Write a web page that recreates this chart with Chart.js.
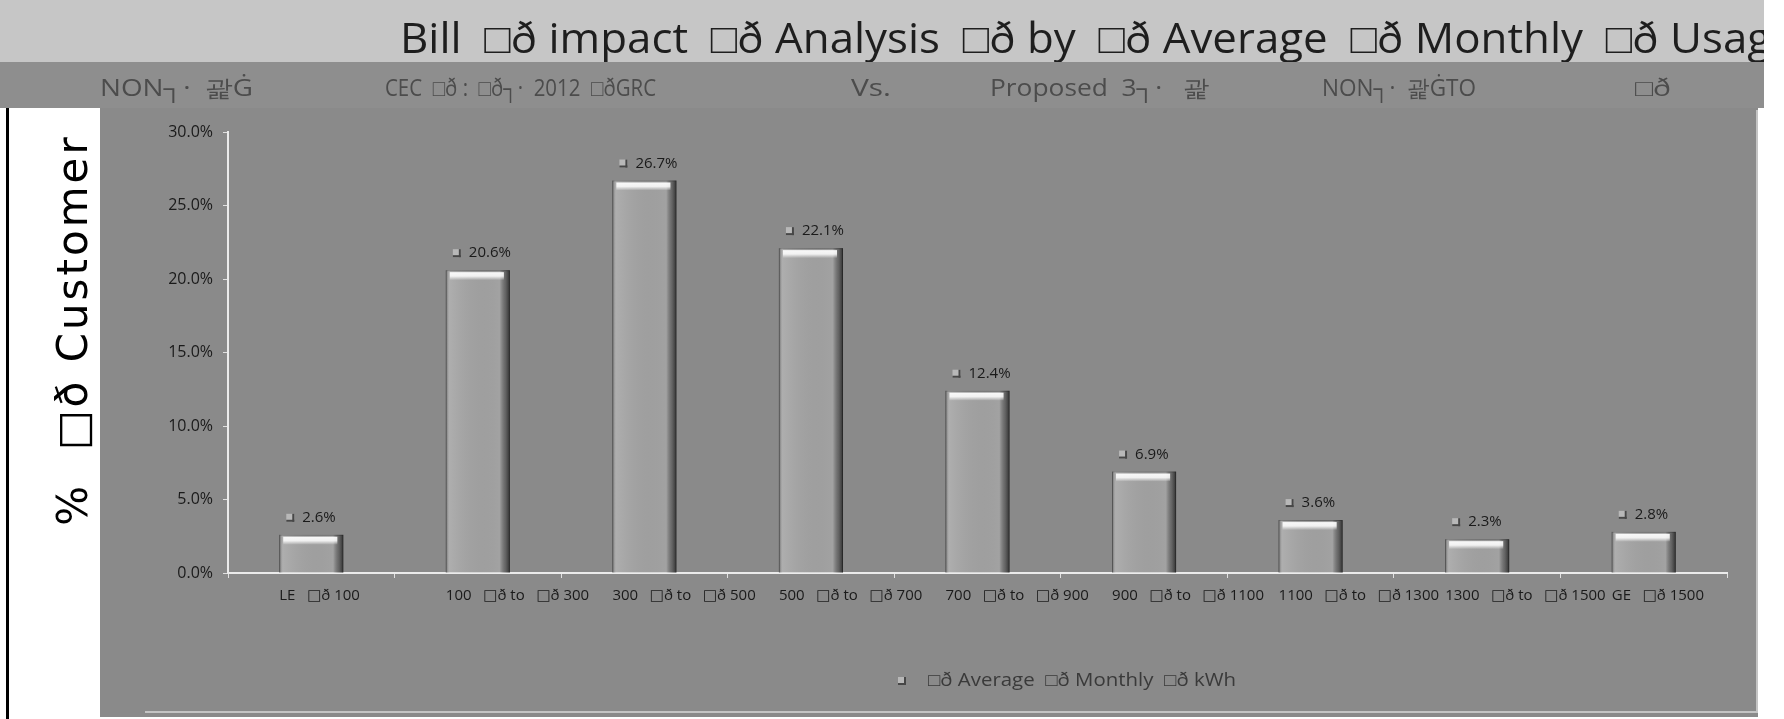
<!DOCTYPE html>
<html>
<head>
<meta charset="utf-8">
<title>Bill impact analysis by average monthly usage</title>
<script src="https://cdn.jsdelivr.net/npm/chart.js@4.4.1/dist/chart.umd.min.js"></script>
<style>
  html, body { margin: 0; padding: 0; background: #ffffff; overflow: hidden; }
  #wrap { position: relative; width: 1784px; height: 719px; }
  canvas { display: block; }
</style>
</head>
<body>
<div id="wrap"><canvas id="usageChart" width="1784" height="719"></canvas></div>
<script>
// ---- chart data ----
const BOX = "\u25A1\u00F0";
const usageBands = [
  "LE   " + BOX + " 100",
  "100   " + BOX + " to   " + BOX + " 300",
  "300   " + BOX + " to   " + BOX + " 500",
  "500   " + BOX + " to   " + BOX + " 700",
  "700   " + BOX + " to   " + BOX + " 900",
  "900   " + BOX + " to   " + BOX + " 1100",
  "1100   " + BOX + " to   " + BOX + " 1300",
  "1300   " + BOX + " to   " + BOX + " 1500",
  "GE   " + BOX + " 1500"
];
const customerShare = [2.6, 20.6, 26.7, 22.1, 12.4, 6.9, 3.6, 2.3, 2.8];
const percentTicks = [0, 5, 10, 15, 20, 25, 30];
const seriesLabel = BOX + " Average  " + BOX + " Monthly  " + BOX + " kWh";
const axisTitle = "%  " + BOX + " Customer";
const titleText = "Bill  " + BOX + " impact  " + BOX + " Analysis  " + BOX + " by  " +
                  BOX + " Average  " + BOX + " Monthly  " + BOX + " Usage";

// second header line, as phrases: [text, left x, right x]
const subtitleRow = [
  ["NON\u2510\u00B7  \uAD09\u0120", 100, 253],
  ["CEC  " + BOX + " :  " + BOX + "\u2510\u00B7  2012  " + BOX + "GRC", 385, 656],
  ["Vs.", 851, 893],
  ["Proposed  3\u2510\u00B7   \uAD09", 990, 1209],
  ["NON\u2510\u00B7  \uAD09\u0120TO", 1322, 1476],
  [BOX, 1635, 1673]
];

const FONT = "'Open Sans', 'Liberation Sans', 'DejaVu Sans', sans-serif";
const LABEL_FONT = "'Open Sans', 'DejaVu Sans', sans-serif";

// draw text starting at x, squeezed or stretched to a given width
function fitText(c, text, x, y, width, lo, hi) {
  const w = c.measureText(text).width;
  const s = Math.min(hi, Math.max(lo, width / w));
  c.save();
  c.translate(x, y);
  c.scale(s, 1);
  c.fillText(text, 0, 0);
  c.restore();
}

function drawKey(c, x, y) {
  c.fillStyle = '#b8b8b8';
  c.fillRect(x - 4, y - 4, 8, 8);
  c.fillStyle = '#474747';
  c.fillRect(x + 2, y - 4, 2, 8);
  c.fillRect(x - 4, y + 2, 8, 2);
}

// ---- page furniture: strips, panels, header text, axis title, legend ----
const furniture = {
  id: 'furniture',
  beforeDraw(chart) {
    const c = chart.ctx;
    c.save();
    c.fillStyle = '#ffffff';
    c.fillRect(0, 0, 1784, 719);
    c.fillStyle = '#c6c6c6';           // title strip
    c.fillRect(0, 0, 1764, 62);
    c.fillStyle = '#8e8e8e';           // subtitle strip
    c.fillRect(0, 62, 1764, 46);
    c.fillStyle = '#8a8a8a';           // chart panel
    c.fillRect(100, 108, 1658, 609);
    c.strokeStyle = '#c4c4c4';
    c.lineWidth = 2;
    c.beginPath();
    c.moveTo(145, 712); c.lineTo(1757, 712); c.lineTo(1757, 110);
    c.stroke();
    c.fillStyle = '#000000';           // rule at the left of the white margin
    c.fillRect(6, 108, 3, 611);
    c.restore();
  },
  afterDraw(chart) {
    const c = chart.ctx;

    // main title, running past the strip edge
    c.save();
    c.beginPath();
    c.rect(0, 0, 1764, 62);
    c.clip();
    c.fillStyle = '#1e1e1e';
    c.font = '42px ' + FONT;
    c.textBaseline = 'alphabetic';
    const lastWord = titleText.lastIndexOf('Usage');
    const prefixW = c.measureText(titleText.slice(0, lastWord)).width;
    fitText(c, titleText, 400, 53, (1670 - 400) * c.measureText(titleText).width / prefixW, 0.7, 1.3);
    c.restore();

    // second header line
    c.save();
    c.fillStyle = '#4c4c4c';
    c.font = '23px ' + FONT;
    c.textBaseline = 'alphabetic';
    subtitleRow.forEach(([t, x0, x1]) => fitText(c, t, x0, 96, x1 - x0, 0.75, 1.3));
    c.restore();

    // vertical axis title
    c.save();
    c.translate(76, 330);
    c.rotate(-Math.PI / 2);
    c.fillStyle = '#000000';
    c.font = "42px 'DejaVu Sans', sans-serif";
    if ('letterSpacing' in c) c.letterSpacing = '3px';
    c.textAlign = 'center';
    c.textBaseline = 'middle';
    c.fillText(axisTitle, 0, 0);
    c.restore();

    // legend
    c.save();
    const lx = 902, ly = 681;
    drawKey(c, lx, ly);
    c.fillStyle = '#3a3a3a';
    c.font = '18px ' + FONT;
    c.textBaseline = 'middle';
    fitText(c, chart.data.datasets[0].label, lx + 26, ly, 308, 0.8, 1.3);
    c.restore();
  }
};

// ---- bevel shading on each bar plus value labels ----
const barDecor = {
  id: 'barDecor',
  afterDatasetsDraw(chart) {
    const c = chart.ctx;
    const meta = chart.getDatasetMeta(0);
    const values = chart.data.datasets[0].data;
    meta.data.forEach((bar, i) => {
      const { x, y, base, width } = bar.getProps(['x', 'y', 'base', 'width'], true);
      const l = x - width / 2;
      c.save();
      const g = c.createLinearGradient(l, 0, l + width, 0);
      g.addColorStop(0, 'rgba(50,50,50,0.6)');
      g.addColorStop(0.07, 'rgba(255,255,255,0.12)');
      g.addColorStop(0.84, 'rgba(0,0,0,0.0)');
      g.addColorStop(0.93, 'rgba(40,40,40,0.5)');
      g.addColorStop(1, 'rgba(20,20,20,0.8)');
      c.fillStyle = g;
      c.fillRect(l, y, width, base - y);
      const h = c.createLinearGradient(0, y + 1, 0, y + 10);
      h.addColorStop(0, 'rgba(255,255,255,0.95)');
      h.addColorStop(0.55, 'rgba(255,255,255,0.85)');
      h.addColorStop(1, 'rgba(255,255,255,0)');
      c.fillStyle = h;
      c.fillRect(l + 4, y + 2, width - 10, 8);
      c.restore();

      c.save();
      drawKey(c, x - 21, y - 17);
      c.fillStyle = '#1a1a1a';
      c.font = '15px ' + FONT;
      c.textBaseline = 'middle';
      c.textAlign = 'left';
      c.fillText(values[i].toFixed(1) + '%', x - 9, y - 17);
      c.restore();
    });
  }
};

new Chart(document.getElementById('usageChart'), {
  type: 'bar',
  data: {
    labels: usageBands,
    datasets: [{
      label: seriesLabel,
      data: customerShare,
      backgroundColor: '#a2a2a2',
      borderColor: '#666666',
      borderWidth: 1,
      categoryPercentage: 1,
      barPercentage: 0.385
    }]
  },
  options: {
    responsive: false,
    animation: false,
    devicePixelRatio: 1,
    layout: { padding: { left: 100, right: 57, top: 132, bottom: 0 } },
    plugins: {
      legend: { display: false },
      title: { display: false },
      tooltip: { enabled: false }
    },
    scales: {
      x: {
        grid: { drawOnChartArea: false, drawTicks: true, tickLength: 5, color: '#e0e0e0', offset: true },
        border: { color: '#ebebeb', width: 2 },
        ticks: {
          autoSkip: false, maxRotation: 0, minRotation: 0, padding: 9,
          align: 'start', labelOffset: -32,
          color: '#1a1a1a', font: { family: LABEL_FONT, size: 15 }
        },
        afterFit(scale) { scale.height = 146; }
      },
      y: {
        min: 0, max: 30,
        afterBuildTicks(scale) { scale.ticks = percentTicks.map(v => ({ value: v })); },
        grid: { drawOnChartArea: false, drawTicks: true, tickLength: 5, color: '#e0e0e0' },
        border: { color: '#ebebeb', width: 2 },
        ticks: {
          padding: 10, color: '#1a1a1a', font: { family: FONT, size: 16 },
          callback: v => Number(v).toFixed(1) + '%'
        },
        afterFit(scale) { scale.width = 128; }
      }
    }
  },
  plugins: [furniture, barDecor]
});
</script>
</body>
</html>
